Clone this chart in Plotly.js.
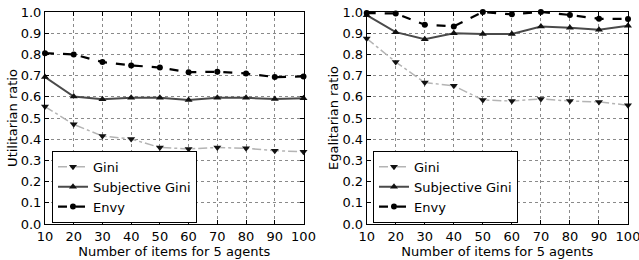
<!DOCTYPE html>
<html><head><meta charset="utf-8">
<script src="https://cdn.plot.ly/plotly-3.0.1.min.js"></script>
<style>html,body{margin:0;padding:0;background:#fff}#c{width:639px;height:260px}</style>
</head><body><div id="c"></div>
<script>
const items = [10,20,30,40,50,60,70,80,90,100];
const utilGini = [0.554,0.47,0.415,0.401,0.361,0.354,0.361,0.357,0.346,0.341];
const utilSubj = [0.693,0.601,0.589,0.596,0.596,0.585,0.595,0.595,0.59,0.593];
const utilEnvy = [0.806,0.8,0.764,0.748,0.738,0.716,0.718,0.71,0.693,0.696];
const egalGini = [0.875,0.764,0.667,0.652,0.585,0.58,0.59,0.58,0.576,0.56];
const egalSubj = [0.985,0.905,0.872,0.9,0.896,0.896,0.932,0.926,0.916,0.935];
const egalEnvy = [0.995,0.993,0.94,0.932,1.0,0.989,1.0,0.986,0.968,0.967];
const names = ['Gini','Subjective Gini','Envy'];

const styles = [
  {line:{color:'#b4b4b4',width:1.5,dash:'dashdot'},marker:{symbol:'triangle-down',size:7,color:'#111'}},
  {line:{color:'#4a4a4a',width:2,dash:'solid'},marker:{symbol:'triangle-up',size:7,color:'#111'}},
  {line:{color:'#000000',width:2.2,dash:'dash'},marker:{symbol:'circle',size:6,color:'#000'}}
];
function mk(y, i, xa, ya, leg){
  return {x:items, y:y, name:names[i], mode:'lines+markers', xaxis:xa, yaxis:ya, legend:leg,
    line:styles[i].line, marker:styles[i].marker, cliponaxis:false};
}
const data = [
  mk(utilGini,0,'x','y','legend'), mk(utilSubj,1,'x','y','legend'), mk(utilEnvy,2,'x','y','legend'),
  mk(egalGini,0,'x2','y2','legend2'), mk(egalSubj,1,'x2','y2','legend2'), mk(egalEnvy,2,'x2','y2','legend2')
];
const font = {family:'DejaVu Sans', size:13, color:'#000'};
function xax(dom){
  return {domain:dom, range:[10,100], dtick:10, tick0:10, ticks:'inside', ticklen:4, tickcolor:'#000',
    showline:true, linecolor:'#000', linewidth:1, mirror:'ticks', showgrid:true, gridcolor:'#8a8a8a',
    griddash:'dot', gridwidth:1, zeroline:false, tickfont:font, ticklabeloverflow:'allow',
    title:{text:'Number of items for 5 agents', font:font, standoff:0}};
}
function yax(anchor, t){
  return {anchor:anchor, domain:[0,1], range:[0,1], dtick:0.1, tickformat:'.1f', ticks:'inside', ticklen:4,
    tickcolor:'#000', showline:true, linecolor:'#000', linewidth:1, mirror:'ticks', showgrid:true,
    gridcolor:'#8a8a8a', griddash:'dot', gridwidth:1, zeroline:false, tickfont:font, ticklabeloverflow:'allow',
    title:{text:t, font:font, standoff:0}};
}
const legFont = {family:'DejaVu Sans', size:13, color:'#000'};
const layout = {
  width:639, height:260, margin:{l:45, r:11, t:12, b:36},
  paper_bgcolor:'#fff', plot_bgcolor:'#fff', font:font,
  xaxis:Object.assign(xax([0,0.4434]),{anchor:'y'}),
  yaxis:yax('x','Utilitarian ratio'),
  xaxis2:Object.assign(xax([0.5518,1]),{anchor:'y2'}),
  yaxis2:yax('x2','Egalitarian ratio'),
  legend:{x:0.012, y:0.345, xanchor:'left', yanchor:'top', bgcolor:'#fff', bordercolor:'#000', borderwidth:1,
    font:legFont, tracegroupgap:0, itemwidth:30},
  legend2:{x:0.5626, y:0.345, xanchor:'left', yanchor:'top', bgcolor:'#fff', bordercolor:'#000', borderwidth:1,
    font:legFont, tracegroupgap:0, itemwidth:30},
  showlegend:true
};
Plotly.newPlot('c', data, layout, {displayModeBar:false, staticPlot:true});
</script>
</body></html>
